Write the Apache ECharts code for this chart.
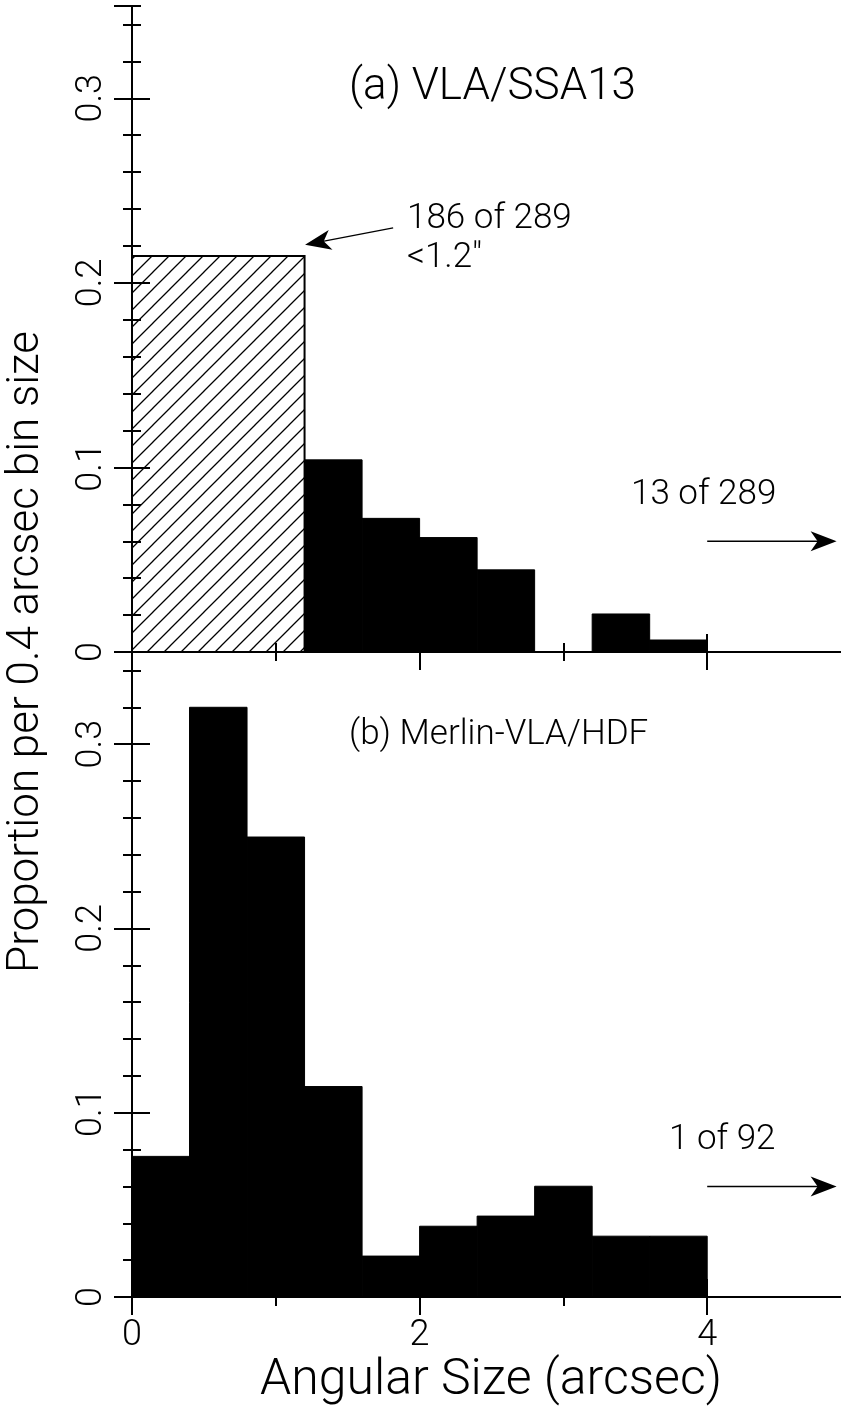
<!DOCTYPE html>
<html>
<head>
<meta charset="utf-8">
<script src="https://cdn.jsdelivr.net/npm/echarts@6/dist/echarts.min.js"></script>
<style>
  html, body { margin: 0; padding: 0; background: #fff; }
  #chart { width: 841px; height: 1412px; }
</style>
</head>
<body>
<div id="chart"></div>
<script>
// bins: [from, to, proportion]
var binsA_hatched = [[0, 1.2, 0.2146]];
var binsA = [
  [1.2, 1.6, 0.1041],
  [1.6, 2.0, 0.0724],
  [2.0, 2.4, 0.0620],
  [2.4, 2.8, 0.0445],
  [2.8, 3.2, 0],
  [3.2, 3.6, 0.0206],
  [3.6, 4.0, 0.0065]
];
var binsB = [
  [0.0, 0.4, 0.0763],
  [0.4, 0.8, 0.3200],
  [0.8, 1.2, 0.2496],
  [1.2, 1.6, 0.1142],
  [1.6, 2.0, 0.0222],
  [2.0, 2.4, 0.0384],
  [2.4, 2.8, 0.0439],
  [2.8, 3.2, 0.0601],
  [3.2, 3.6, 0.0330],
  [3.6, 4.0, 0.0330]
];
// arrows: [x0, y0, x1, y1] in data units
var arrowsA = [[1.816, 0.2298, 1.2035, 0.2206], [4.0, 0.060, 4.9, 0.060]];
var arrowsB = [[4.0, 0.060, 4.9, 0.060]];
var xTickLabels = ['0', '2', '4'];
var yTickLabels = ['0', '0.1', '0.2', '0.3'];

var FONT = 'Roboto';
var chart = echarts.init(document.getElementById('chart'));

// hatch pattern for the first bin
var hatch = document.createElement('canvas');
hatch.width = 17; hatch.height = 17;
var hc = hatch.getContext('2d');
hc.strokeStyle = '#000';
hc.lineWidth = 1.3;
hc.beginPath();
hc.moveTo(-2, 19); hc.lineTo(19, -2);
hc.moveTo(-2, 2); hc.lineTo(2, -2);
hc.moveTo(15, 19); hc.lineTo(19, 15);
hc.stroke();

function renderBin(fill, stroke, lw) {
  return function (params, api) {
    var p0 = api.coord([api.value(0), api.value(2)]);
    var p1 = api.coord([api.value(1), 0]);
    if (p1[1] - p0[1] <= 0) return null;
    return {
      type: 'rect',
      shape: { x: p0[0], y: p0[1], width: p1[0] - p0[0], height: p1[1] - p0[1] },
      style: { fill: fill, stroke: stroke, lineWidth: lw }
    };
  };
}

function renderArrow(params, api) {
  var a = api.coord([api.value(0), api.value(1)]);
  var b = api.coord([api.value(2), api.value(3)]);
  var ang = Math.atan2(b[1] - a[1], b[0] - a[0]);
  var c = Math.cos(ang), s = Math.sin(ang);
  function pt(l, w) { return [b[0] - l * c - w * s, b[1] - l * s + w * c]; }
  return {
    type: 'group',
    children: [
      { type: 'line', shape: { x1: a[0], y1: a[1], x2: pt(18, 0)[0], y2: pt(18, 0)[1] },
        style: { stroke: '#000', lineWidth: 1.4 } },
      { type: 'polygon', shape: { points: [b, pt(26, 10), pt(19, 0), pt(26, -10)] },
        style: { fill: '#000' } }
    ]
  };
}

function xAxes(gridIndex, withLabels) {
  var base = { type: 'value', gridIndex: gridIndex, min: 0, max: 5, splitLine: { show: false } };
  function ax(pos, interval, len, line, label) {
    return Object.assign({}, base, {
      position: pos, interval: interval,
      axisLine: { show: line, lineStyle: { color: '#000', width: 2 } },
      axisTick: { show: true, inside: true, length: len, lineStyle: { color: '#000', width: 2 } },
      axisLabel: label ? {
        show: true, margin: 21, color: '#000', fontFamily: FONT, fontWeight: 300, fontSize: 36,
        showMaxLabel: false,
        formatter: function (v) { return xTickLabels.indexOf(String(v)) >= 0 ? String(v) : ''; }
      } : { show: false }
    });
  }
  return [
    ax('bottom', 2, 18, true, withLabels),
    ax('bottom', 1, 9, false, false),
    ax('top', 2, 18, true, false),
    ax('top', 1, 9, false, false)
  ];
}

function yAxes(gridIndex) {
  var base = { type: 'value', gridIndex: gridIndex, min: 0, max: 0.35, splitLine: { show: false } };
  function ax(pos, interval, len, line, label) {
    return Object.assign({}, base, {
      position: pos, interval: interval,
      axisLine: { show: line, lineStyle: { color: '#000', width: 2 } },
      axisTick: { show: true, inside: true, length: len, lineStyle: { color: '#000', width: 2 } },
      axisLabel: label ? {
        show: true, rotate: 90, margin: 22, color: '#000', fontFamily: FONT, fontWeight: 300, fontSize: 36,
        showMaxLabel: false,
        formatter: function (v) {
          var t = String(Math.round(v * 10) / 10);
          return (Math.abs(v * 10 - Math.round(v * 10)) < 1e-6 && yTickLabels.indexOf(t) >= 0) ? t : '';
        }
      } : { show: false }
    });
  }
  return [
    ax('left', 0.1, 18, true, true),
    ax('left', 0.02, 9, false, false),
    ax('right', 0.1, 18, true, false),
    ax('right', 0.02, 9, false, false)
  ];
}

var textStyle = { fill: '#000', fontFamily: FONT, fontWeight: 300, fontSize: 35 };
function label(text, x, y, size, align) {
  return {
    type: 'text', x: x, y: y,
    style: Object.assign({}, textStyle, {
      text: text, fontSize: size || 35, verticalAlign: 'middle', align: align || 'left'
    })
  };
}

chart.setOption({
  animation: false,
  backgroundColor: '#fff',
  grid: [
    { left: 132, top: 6, width: 719, height: 646, outerBoundsMode: 'none', containLabel: false },
    { left: 132, top: 652, width: 719, height: 645, outerBoundsMode: 'none', containLabel: false }
  ],
  xAxis: xAxes(0, false).concat(xAxes(1, true)),
  yAxis: yAxes(0).concat(yAxes(1)),
  graphic: [
    label('(a) VLA/SSA13', 349, 88, 44),
    label('186 of 289', 407, 219),
    label('<1.2"', 407, 258),
    label('13 of 289', 631, 495),
    label('(b) Merlin-VLA/HDF', 349, 735, 35),
    label('1 of 92', 669, 1140),
    label('Angular Size (arcsec)', 491, 1381, 50, 'center'),
    {
      type: 'text', x: 27, y: 652, rotation: Math.PI / 2,
      style: Object.assign({}, textStyle, {
        text: 'Proportion per 0.4 arcsec bin size', fontSize: 44, align: 'center', verticalAlign: 'middle'
      })
    }
  ],
  series: [
    { type: 'custom', xAxisIndex: 0, yAxisIndex: 0, data: binsA_hatched,
      encode: { x: [0, 1], y: 2 }, renderItem: renderBin({ image: hatch, repeat: 'repeat' }, '#000', 2) },
    { type: 'custom', xAxisIndex: 0, yAxisIndex: 0, data: binsA,
      encode: { x: [0, 1], y: 2 }, renderItem: renderBin('#000', '#000', 1) },
    { type: 'custom', xAxisIndex: 0, yAxisIndex: 0, data: arrowsA,
      encode: { x: [0, 2], y: [1, 3] }, renderItem: renderArrow },
    { type: 'custom', xAxisIndex: 4, yAxisIndex: 4, data: binsB,
      encode: { x: [0, 1], y: 2 }, renderItem: renderBin('#000', '#000', 1) },
    { type: 'custom', xAxisIndex: 4, yAxisIndex: 4, data: arrowsB,
      encode: { x: [0, 2], y: [1, 3] }, renderItem: renderArrow }
  ]
});
</script>
</body>
</html>
